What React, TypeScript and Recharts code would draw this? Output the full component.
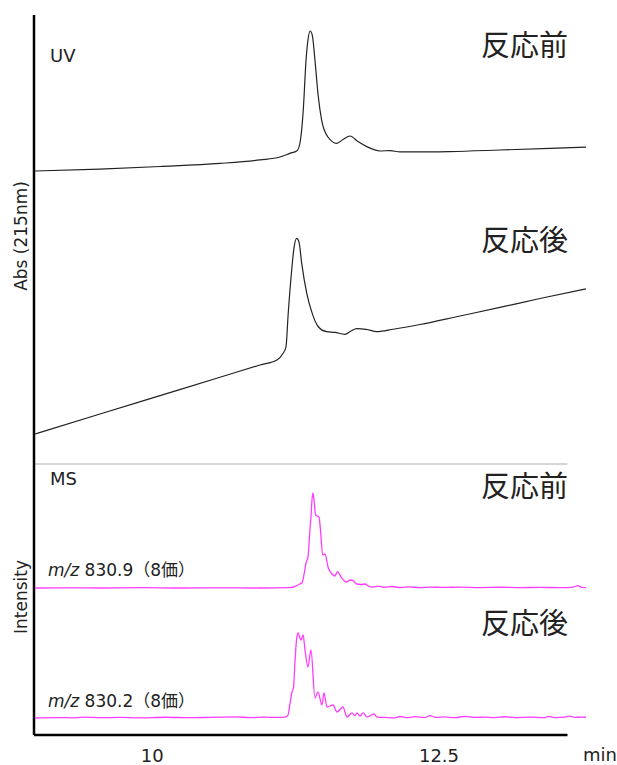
import { LineChart, Line, XAxis, YAxis, ReferenceLine } from "recharts";

// retention time (min) / signal pairs
const uvBefore = [
  [8.979, 0], [9.545, 1.4], [10.068, 3.2], [10.591, 5.4], [10.94, 7.9], [11.114, 10],
  [11.201, 12.6], [11.262, 14.5], [11.288, 20], [11.317, 43.6],
  [11.341, 79], [11.358, 93.6], [11.378, 100], [11.397, 96.4], [11.419, 79],
  [11.448, 53], [11.477, 36.4], [11.532, 24.3], [11.608, 19.8], [11.663, 22.5],
  [11.724, 25], [11.794, 21], [11.87, 17.4], [11.986, 14.3], [12.073, 14.6],
  [12.16, 13.6], [12.334, 13.6], [12.596, 13.9], [13.031, 15], [13.467, 16.2],
  [13.781, 17.1],
];

const uvAfter = [
  [8.979, 0], [9.545, 14.3], [10.068, 27.4], [10.591, 40.5], [10.94, 49.3],
  [11.088, 52.9], [11.14, 57.5], [11.166, 62.1], [11.186, 86.4], [11.216, 117.1],
  [11.236, 132.9], [11.259, 139.8], [11.28, 137.1], [11.303, 122.1], [11.347, 100.7],
  [11.39, 87.4], [11.448, 76.6], [11.521, 73.1], [11.593, 72.6], [11.68, 71.2],
  [11.733, 73.6], [11.782, 75.2], [11.864, 74.8], [11.957, 73.1], [12.101, 74.8],
  [12.334, 78.2], [12.683, 84.3], [13.031, 90.4], [13.38, 96.8], [13.781, 103.6],
];

const msBefore = [
  [8.979, 0], [9.197, 0.2], [9.545, 0], [9.894, 0.3], [10.242, 0], [10.591, 0.2],
  [10.94, 0], [11.201, 0.4], [11.253, 2], [11.288, 4.2], [11.306, 5.3], [11.323, 13.7],
  [11.341, 26.3], [11.358, 32.6], [11.375, 61], [11.384, 74.7], [11.399, 100],
  [11.41, 92.6], [11.425, 76.8], [11.454, 74.7], [11.467, 61], [11.486, 34.7],
  [11.506, 35.8], [11.535, 21], [11.567, 14.7], [11.593, 12.6], [11.615, 17.2],
  [11.652, 10.5], [11.695, 6.3], [11.724, 8.4], [11.753, 7.7], [11.782, 4.2],
  [11.82, 3.7], [11.855, 4.2], [11.89, 1.6], [11.916, 1], [11.968, 2], [12.02, 0.8],
  [12.09, 1.6], [12.16, 0.5], [12.247, 1.2], [12.334, 0.4], [12.421, 1], [12.552, 0.6],
  [12.683, 1], [12.857, 0.5], [13.031, 0.8], [13.206, 0.4], [13.38, 0.7], [13.554, 0.4],
  [13.659, 0.6], [13.711, 2.5], [13.737, 1], [13.781, 0.3],
];

const msAfter = [
  [8.979, 0], [9.155, 0.5], [9.327, 0.2], [9.414, 1], [9.545, 0.3], [9.72, 0.6],
  [9.894, 0.2], [10.112, 0.8], [10.329, 0.3], [10.504, 0.7], [10.73, 1.2], [10.852, 0.4],
  [10.983, 0.9], [11.114, 0.6], [11.166, 1.2], [11.184, 3.2], [11.201, 15],
  [11.219, 27.4], [11.232, 32.6], [11.245, 60], [11.258, 82], [11.271, 89.5],
  [11.297, 82], [11.315, 87.4], [11.332, 72], [11.358, 53.7], [11.384, 71.6],
  [11.419, 21], [11.445, 27.4], [11.48, 13.7], [11.497, 26.3], [11.524, 11.6],
  [11.576, 13.7], [11.611, 6.3], [11.663, 11.6], [11.698, 1], [11.742, 5.3],
  [11.768, 2.5], [11.786, 5.3], [11.811, 2], [11.838, 5.3], [11.873, 1], [11.934, 4.2],
  [11.96, 1], [12.03, 0.6], [12.117, 0.2], [12.16, 1.6], [12.23, 0.4], [12.291, 1.4],
  [12.378, 0.5], [12.421, 2.6], [12.473, 0.6], [12.552, 1.1], [12.639, 0.4],
  [12.726, 1.7], [12.813, 0.6], [12.9, 1], [12.987, 0.4], [13.074, 1.3], [13.162, 0.5],
  [13.292, 0.9], [13.423, 0.3], [13.45, 1.8], [13.51, 0.5], [13.597, 1], [13.641, 2],
  [13.685, 0.6], [13.737, 1], [13.781, 0.8],
];

const xTicks = [10, 12.5];

const W = 617;
const H = 765;
const PLOT_TOP = 15;
const PLOT_BOTTOM = 735;
const X_MIN = 8.97;
const X_MAX = 13.79;
const AXIS_END = 13.62;

const UV_SCALE = 1.4; // px per unit
const MS_SCALE = 0.95;

// each trace gets its own hidden y axis; domain puts its baseline at the given pixel row
const band = (baseline: number, scale: number) => [
  (baseline - PLOT_BOTTOM) / scale,
  (baseline - PLOT_TOP) / scale,
];

const toRows = (arr: number[][]) => arr.map(([t, v]) => ({ t, v }));

const LATIN = "'DejaVu Sans', 'Noto Sans CJK JP', sans-serif";
const CJK = "'Noto Sans CJK JP', sans-serif";

const UV_COLOR = "#222";
const MS_COLOR = "#ff3cff";

export default function App() {
  const uvBeforeDomain = band(171, UV_SCALE);
  const uvAfterDomain = band(434, UV_SCALE);
  const msBeforeDomain = band(588, MS_SCALE);
  const msAfterDomain = band(718, MS_SCALE);
  const separatorValue = (588 - 464) / MS_SCALE;

  return (
    <div style={{ position: "absolute", left: 0, top: 0, width: W, height: H, background: "#fff" }}>
      <LineChart width={W} height={H} margin={{ top: PLOT_TOP, right: 30, bottom: 0, left: 34 }}>
        <XAxis
          dataKey="t"
          type="number"
          domain={[X_MIN, X_MAX]}
          allowDataOverflow
          ticks={xTicks}
          height={30}
          axisLine={false}
          tickLine={false}
          tickSize={0}
          tickMargin={14}
          tick={{ fontSize: 18, fill: "#222", fontFamily: LATIN }}
        />
        <YAxis yAxisId="uvB" hide domain={uvBeforeDomain} allowDataOverflow />
        <YAxis yAxisId="uvA" hide domain={uvAfterDomain} allowDataOverflow />
        <YAxis yAxisId="msB" hide domain={msBeforeDomain} allowDataOverflow />
        <YAxis yAxisId="msA" hide domain={msAfterDomain} allowDataOverflow />

        <ReferenceLine
          yAxisId="msB"
          segment={[{ x: X_MIN, y: separatorValue }, { x: AXIS_END, y: separatorValue }]}
          stroke="#d6d6d6"
          strokeWidth={2}
        />
        <ReferenceLine
          yAxisId="uvB"
          segment={[{ x: X_MIN, y: uvBeforeDomain[0] }, { x: AXIS_END, y: uvBeforeDomain[0] }]}
          stroke="#000"
          strokeWidth={2.5}
        />
        <ReferenceLine yAxisId="uvB" x={X_MIN} stroke="#000" strokeWidth={2.5} />

        <Line yAxisId="uvB" data={toRows(uvBefore)} dataKey="v" type="monotone" stroke={UV_COLOR} strokeWidth={1.2} dot={false} isAnimationActive={false} />
        <Line yAxisId="uvA" data={toRows(uvAfter)} dataKey="v" type="monotone" stroke={UV_COLOR} strokeWidth={1.2} dot={false} isAnimationActive={false} />
        <Line yAxisId="msB" data={toRows(msBefore)} dataKey="v" type="monotone" stroke={MS_COLOR} strokeWidth={1.3} dot={false} isAnimationActive={false} />
        <Line yAxisId="msA" data={toRows(msAfter)} dataKey="v" type="monotone" stroke={MS_COLOR} strokeWidth={1.3} dot={false} isAnimationActive={false} />

        <text x={50} y={62} fontSize={18} fontFamily={LATIN} fill="#222">UV</text>
        <text x={50} y={485} fontSize={18} fontFamily={LATIN} fill="#222">MS</text>
        <text x={481} y={56} fontSize={29} fontFamily={CJK} fill="#222">反応前</text>
        <text x={481} y={251} fontSize={29} fontFamily={CJK} fill="#222">反応後</text>
        <text x={481} y={497} fontSize={29} fontFamily={CJK} fill="#222">反応前</text>
        <text x={481} y={634} fontSize={29} fontFamily={CJK} fill="#222">反応後</text>
        <text x={48} y={576} fontSize={17} fontFamily={LATIN} fill="#222">
          <tspan fontStyle="italic">m/z</tspan> 830.9（8価）
        </text>
        <text x={48} y={707} fontSize={17} fontFamily={LATIN} fill="#222">
          <tspan fontStyle="italic">m/z</tspan> 830.2（8価）
        </text>
        <text x={583} y={761} fontSize={18} fontFamily={LATIN} fill="#222">min</text>
        <text
          x={21}
          y={236}
          transform="rotate(-90 21 236)"
          textAnchor="middle"
          dominantBaseline="central"
          fontSize={17}
          fontFamily={LATIN}
          fill="#222"
        >
          Abs (215nm)
        </text>
        <text
          x={21}
          y={597}
          transform="rotate(-90 21 597)"
          textAnchor="middle"
          dominantBaseline="central"
          fontSize={17}
          fontFamily={LATIN}
          fill="#222"
        >
          Intensity
        </text>
      </LineChart>
    </div>
  );
}
